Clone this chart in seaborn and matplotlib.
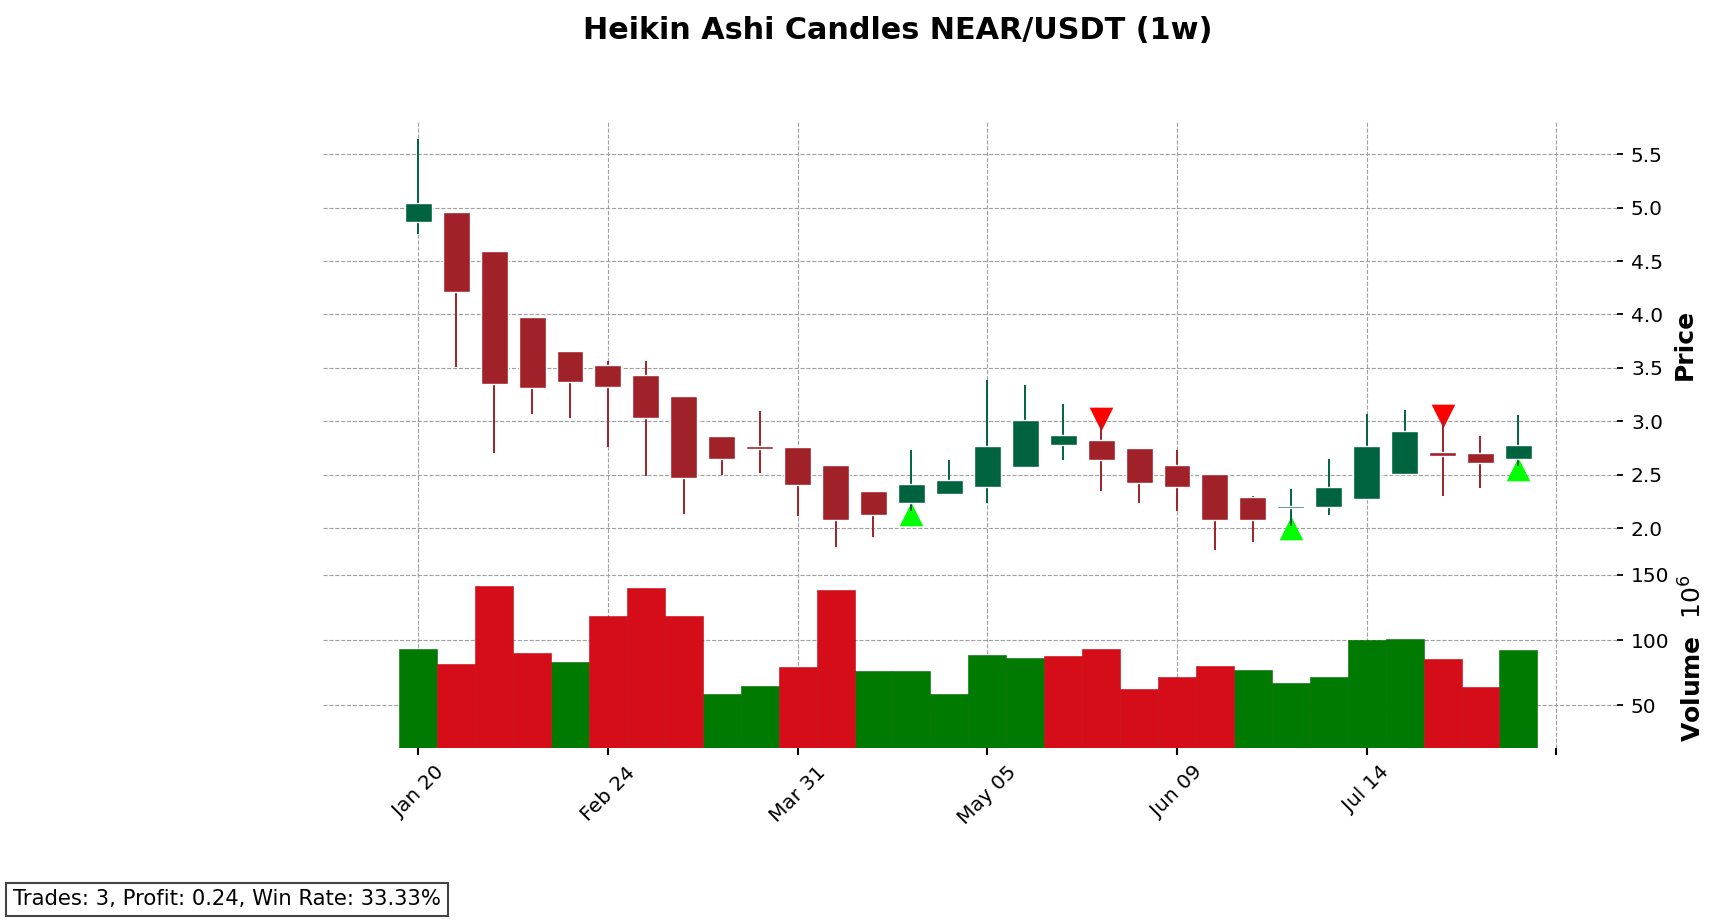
import numpy as np
import pandas as pd
import seaborn as sns
import matplotlib
matplotlib.use("Agg")
import matplotlib.pyplot as plt

# weekly Heikin Ashi candles
dates = pd.date_range("2025-01-20", periods=30, freq="W-MON")
ha_open = [4.865, 4.957, 4.589, 3.977, 3.657, 3.525, 3.431, 3.233, 2.866, 2.757,
           2.764, 2.595, 2.351, 2.232, 2.316, 2.382, 2.570, 2.775, 2.829, 2.754,
           2.595, 2.503, 2.295, 2.190, 2.194, 2.270, 2.511, 2.716, 2.706, 2.643]
ha_high = [5.644, 4.957, 4.589, 3.977, 3.657, 3.563, 3.563, 3.233, 2.866, 3.092,
           2.764, 2.595, 2.351, 2.735, 2.642, 3.384, 3.337, 3.158, 2.990, 2.754,
           2.735, 2.503, 2.300, 2.370, 2.651, 3.064, 3.102, 3.020, 2.866, 3.055]
ha_low = [4.752, 3.509, 2.700, 3.067, 3.029, 2.756, 2.490, 2.135, 2.502, 2.520,
          2.116, 1.826, 1.920, 2.157, 2.316, 2.232, 2.570, 2.642, 2.344, 2.232,
          2.163, 1.797, 1.872, 2.020, 2.128, 2.270, 2.511, 2.304, 2.380, 2.579]
ha_close = [5.040, 4.206, 3.349, 3.312, 3.368, 3.321, 3.029, 2.474, 2.643, 2.745,
            2.400, 2.079, 2.128, 2.417, 2.454, 2.772, 3.008, 2.876, 2.634, 2.426,
            2.382, 2.079, 2.079, 2.210, 2.388, 2.772, 2.913, 2.675, 2.610, 2.782]

# volume in millions, and whether the raw weekly candle closed up
volume = [93.3, 81.4, 141.1, 90.3, 83.4, 118.4, 139.6, 118.4, 58.6, 64.7,
          79.1, 138.1, 76.6, 76.6, 58.6, 88.5, 86.0, 87.8, 93.1, 62.5,
          71.7, 80.1, 77.0, 67.1, 71.7, 100.0, 100.8, 85.7, 64.0, 92.3]
vol_up = [1, 0, 0, 0, 1, 0, 0, 0, 1, 1, 0, 0, 1, 1, 1, 1, 1, 0, 0, 0,
          0, 0, 1, 1, 1, 1, 1, 0, 0, 1]

buy_idx = [13, 23, 29]
sell_idx = [18, 27]

summary = "Trades: 3, Profit: 0.24, Win Rate: 33.33%"

up_c, down_c = "#006340", "#A02128"
vup_c, vdown_c = "#007a00", "#d50d18"
grid_c = "#a0a0a0"

df = pd.DataFrame({"idx": np.arange(len(dates)), "open": ha_open, "high": ha_high,
                   "low": ha_low, "close": ha_close, "volume": volume,
                   "vdir": ["up" if u else "down" for u in vol_up]})
df["color"] = np.where(df["close"] >= df["open"], up_c, down_c)

sns.set_style("white")
plt.rcParams["font.family"] = ["DejaVu Sans"]
plt.rcParams.update({"text.color": "black", "axes.labelcolor": "black",
                     "xtick.color": "black", "ytick.color": "black"})

fig = plt.figure(figsize=(17.21, 9.21), dpi=100)
ax = fig.add_axes([0.1879, 0.3833, 0.7517, 0.4857])
axv = fig.add_axes([0.1879, 0.1882, 0.7517, 0.1951])

# candles
ax.vlines(df["idx"], df["low"], df["high"], colors=df["color"], linewidth=1.4, zorder=3)
body_lo = np.minimum(df["open"], df["close"])
body_h = np.maximum(np.abs(df["close"] - df["open"]), 0.02)
ax.bar(df["idx"], body_h, bottom=body_lo, width=0.71, color=df["color"], zorder=4)

# trade markers
buys = df.iloc[buy_idx].assign(mark=lambda d: d["low"] * 0.99)
sells = df.iloc[sell_idx].assign(mark=lambda d: d["high"] * 1.01)
sns.scatterplot(data=buys, x="idx", y="mark", marker="^", color="#00ff00", s=290,
                linewidth=0, ax=ax, zorder=2)
sns.scatterplot(data=sells, x="idx", y="mark", marker="v", color="#ff0000", s=290,
                linewidth=0, ax=ax, zorder=2)

# volume
sns.barplot(data=df, x="idx", y="volume", hue="vdir", palette={"up": vup_c, "down": vdown_c},
            width=1.0, dodge=False, legend=False, ax=axv, linewidth=0.4, saturation=1)
for bar in axv.patches:
    fc = bar.get_facecolor()
    bar.set_edgecolor((fc[0] * 0.9, fc[1] * 0.9, fc[2] * 0.9, 1))

rng = max(ha_high) - min(ha_low)
ax.set_ylim(min(ha_low) - 0.044 * rng, max(ha_high) + 0.044 * rng)
axv.set_ylim(0.3 * min(volume), 1.1 * max(volume))
for a in (ax, axv):
    a.set_xlim(-2.5, 31.6)
    a.set_xticks(range(0, 31, 5))
    a.grid(True, linestyle="--", color=grid_c, linewidth=0.8)
    a.set_axisbelow(True)
    for s in a.spines.values():
        s.set_visible(False)
    a.yaxis.tick_right()
    a.yaxis.set_label_position("right")
    a.tick_params(axis="y", which="both", length=4, width=1.3, labelsize=14.5,
                  left=False, right=True, pad=6)
    a.set_xlabel("")

ax.set_yticks(np.arange(2.0, 5.51, 0.5))
ax.set_yticklabels([f"{v:.1f}" for v in np.arange(2.0, 5.51, 0.5)])
ax.tick_params(axis="x", bottom=False, labelbottom=False)
axv.set_yticks([50, 100, 150])
axv.set_yticklabels(["50", "100", "150"])

labels = [dates[i].strftime("%b %d") if i < len(dates) else "" for i in range(0, 31, 5)]
axv.set_xticklabels(labels, rotation=45, fontsize=14.5)
axv.tick_params(axis="x", bottom=True, length=5, width=1.5, pad=6)

ax.set_ylabel("Price", fontsize=18, fontweight="bold", labelpad=7)
axv.set_ylabel("Volume  $10^{6}$", fontsize=18, fontweight="bold", labelpad=7)

fig.text(0.5215, 0.967, "Heikin Ashi Candles NEAR/USDT (1w)", ha="center", va="center",
         fontsize=21.8, fontweight="bold")
fig.text(0.0075, 0.0125, summary, fontsize=15.2, ha="left", va="bottom",
         bbox=dict(facecolor="white", edgecolor="#444444", linewidth=1.5, pad=5))

fig.savefig("out.png", dpi=100)
